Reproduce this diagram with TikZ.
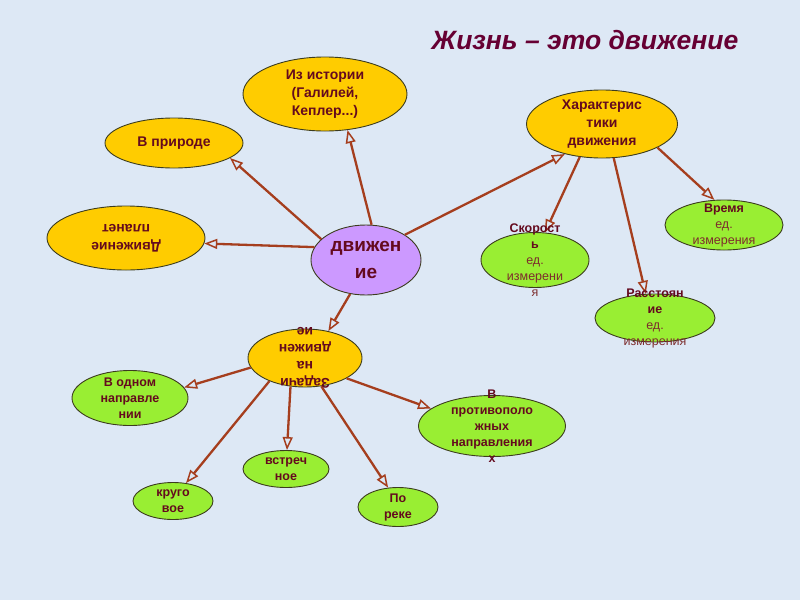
\documentclass[tikz,border=0pt]{standalone}
\usepackage{fontspec}
\setmainfont{Liberation Sans}
\usetikzlibrary{shapes.geometric,arrows.meta}
\definecolor{bg}{RGB}{221,232,245}
\definecolor{gold}{RGB}{255,204,0}
\definecolor{lime}{RGB}{153,238,51}
\definecolor{violet}{RGB}{204,153,255}
\definecolor{arr}{RGB}{165,62,30}
\definecolor{txtc}{RGB}{100,10,30}
\definecolor{edtxt}{RGB}{125,45,45}
\definecolor{titc}{RGB}{102,0,51}
\definecolor{edge}{RGB}{60,60,30}
\tikzset{
 oval/.style={ellipse, draw=edge, line width=0.9pt, inner sep=0pt},
 goldoval/.style={oval, fill=gold},
 greenoval/.style={oval, fill=lime},
 lbl/.style={text=txtc, align=center, inner sep=0pt},
 big/.style={lbl, font=\fontsize{14}{18}\selectfont\bfseries},
 gtxt/.style={lbl, font=\fontsize{12.5}{16}\selectfont},
 btxt/.style={lbl, font=\fontsize{12.5}{16}\selectfont\bfseries},
 conn/.style={draw=arr, line width=2.3pt, -{Triangle[open,length=13pt,width=10pt,line width=1.5pt]}},
}
\begin{document}
\begin{tikzpicture}[x=1pt,y=-1pt]
\useasboundingbox (0,0) rectangle (800,600);
\fill[bg] (0,0) rectangle (800,600);

\node[font=\fontsize{26.5}{30}\selectfont\bfseries\itshape, text=titc] (title) at (585,40) {Жизнь – это движение};

% ovals
\node[oval, fill=violet, minimum width=110pt, minimum height=70pt] (c) at (366,260) {};
\node[goldoval, minimum width=164pt, minimum height=74pt] (hist) at (325,94) {};
\node[goldoval, minimum width=138pt, minimum height=50pt] (nat) at (174,143) {};
\node[goldoval, minimum width=158pt, minimum height=64pt] (plan) at (126,238) {};
\node[goldoval, minimum width=151pt, minimum height=68pt] (char) at (602,124) {};
\node[goldoval, minimum width=114pt, minimum height=58pt] (task) at (305,358) {};
\node[greenoval, minimum width=118pt, minimum height=50pt] (time) at (724,225) {};
\node[greenoval, minimum width=108pt, minimum height=55pt] (speed) at (535,260) {};
\node[greenoval, minimum width=120pt, minimum height=48pt] (dist) at (655,318) {};
\node[greenoval, minimum width=116pt, minimum height=55pt] (one) at (130,398) {};
\node[greenoval, minimum width=80pt, minimum height=37pt] (circ) at (173,501) {};
\node[greenoval, minimum width=86pt, minimum height=37pt] (meet) at (286,469) {};
\node[greenoval, minimum width=80pt, minimum height=39pt] (river) at (398,507) {};
\node[greenoval, minimum width=147pt, minimum height=61pt] (opp) at (492,426) {};

% connectors
\draw[conn] (c.155) -- (nat.345);
\draw[conn] (c.81) -- (hist.302);
\draw[conn] (c.166) -- (plan.356);
\draw[conn] (c.33) -- (char.219);
\draw[conn] (c.245) -- (task.49);
\draw[conn] (char.236) -- (speed.70);
\draw[conn] (char.289) -- (dist.111);
\draw[conn] (char.337) -- (time.111);
\draw[conn] (task.190) -- (one.11);
\draw[conn] (task.213) -- (circ.54);
\draw[conn] (task.243) -- (meet.87);
\draw[conn] (task.300) -- (river.117);
\draw[conn] (task.334) -- (opp.164);

% texts
\node[lbl, font=\fontsize{19}{27}\selectfont\bfseries] (tc) at (c) {движен\\ие};
\node[big] (thist) at (hist) {Из истории\\(Галилей,\\Кеплер...)};
\node[big] (tnat) at (nat) {В природе};
\node[big, rotate=180] (tplan) at (plan) {Движение\\планет};
\node[big] (tchar) at (char) {Характерис\\тики\\движения};
\node[big, rotate=180, font=\fontsize{14}{17}\selectfont\bfseries] (ttask) at (task) {Задачи\\на\\движен\\ие};
\node[gtxt] (ttime) at (time) {\textbf{Время}\\\textcolor{edtxt}{ед.}\\\textcolor{edtxt}{измерения}};
\node[gtxt] (tspeed) at (speed) {\textbf{Скорост}\\\textbf{ь}\\\textcolor{edtxt}{ед.}\\\textcolor{edtxt}{измерени}\\\textcolor{edtxt}{я}};
\node[gtxt] (tdist) at (dist) {\textbf{Расстоян}\\\textbf{ие}\\\textcolor{edtxt}{ед.}\\\textcolor{edtxt}{измерения}};
\node[btxt] (tone) at (one) {В одном\\направле\\нии};
\node[btxt] (tcirc) at (circ) {круго\\вое};
\node[btxt] (tmeet) at (meet) {встреч\\ное};
\node[btxt] (triver) at (river) {По\\реке};
\node[btxt] (topp) at (opp) {В\\противополо\\жных\\направления\\х};
\end{tikzpicture}
\end{document}
